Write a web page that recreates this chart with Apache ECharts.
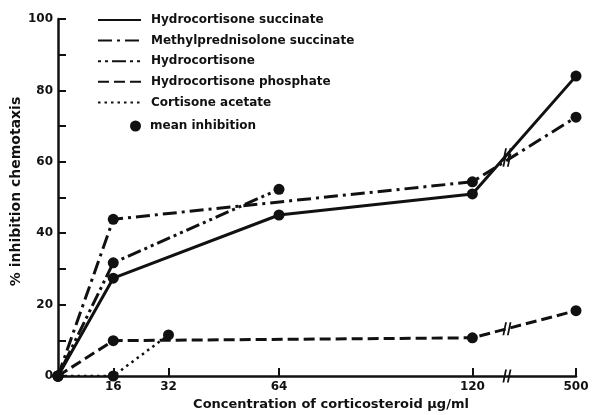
<!DOCTYPE html>
<html>
<head>
<meta charset="utf-8">
<script src="https://cdn.jsdelivr.net/npm/echarts@6/dist/echarts.min.js"></script>
<style>
html,body{margin:0;padding:0;background:#fff;}
#chart{width:593px;height:415px;}
</style>
</head>
<body>
<div id="chart"></div>
<script>
// ---- data ----
const xTickValues = [16, 32, 64, 120, 500];
const yTickValues = [0, 20, 40, 60, 80, 100];

const hsuccX = [0, 16, 64, 120, 500];
const hsuccY = [0, 27.4, 45.1, 51.0, 84.0];

const mpsuccX = [0, 16, 120, 500];
const mpsuccY = [0, 43.9, 54.4, 72.5];

const hcX = [0, 16, 64];
const hcY = [0, 31.7, 52.3];

const hphosX = [0, 16, 120, 500];
const hphosY = [0, 9.9, 10.7, 18.3];

const caX = [0, 16, 32];
const caY = [0, 0, 11.5];

const seriesNames = ['Hydrocortisone succinate', 'Methylprednisolone succinate', 'Hydrocortisone', 'Hydrocortisone phosphate', 'Cortisone acetate'];
const meanName = 'mean inhibition';

// ---- broken x axis: 0..120 linear, then a break, then 500 ----
const breakStart = 120, breakEnd = 500, gapUnits = 30;
function mapX(v) { return v <= breakStart ? v : breakStart + gapUnits * (v - breakStart) / (breakEnd - breakStart); }
function unmapX(m) { return m <= breakStart ? m : Math.round(breakStart + (m - breakStart) * (breakEnd - breakStart) / gapUnits); }
const breakMarkX = 130; // in mapped units, position of the "//" marks

function pairs(xs, ys) { return xs.map((x, i) => [mapX(x), ys[i]]); }
function interpAt(xs, ys, mx) {
  const p = pairs(xs, ys);
  for (let i = 1; i < p.length; i++) {
    if (p[i][0] >= mx && p[i - 1][0] <= mx) {
      const t = (mx - p[i - 1][0]) / (p[i][0] - p[i - 1][0]);
      return p[i - 1][1] + t * (p[i][1] - p[i - 1][1]);
    }
  }
  return null;
}

const FONT = 'DejaVu Sans';
const INK = '#111';

const allLines = [
  [hsuccX, hsuccY, 'solid', 3],
  [mpsuccX, mpsuccY, [14, 5, 3, 5], 3],
  [hcX, hcY, [3, 4, 3, 4, 14, 4], 3],
  [hphosX, hphosY, [11, 5], 3],
  [caX, caY, [2.5, 4], 2.5]
];

const lineSeries = allLines.map((l, i) => ({
  name: seriesNames[i],
  type: 'line',
  data: pairs(l[0], l[1]),
  symbol: 'none',
  lineStyle: { color: INK, width: l[3], type: l[2], cap: 'butt' },
  itemStyle: { color: INK },
  z: 2,
  silent: true
}));

const meanData = [];
allLines.forEach(l => pairs(l[0], l[1]).forEach(p => meanData.push(p)));

const breakData = [[breakMarkX, 0]];
allLines.forEach(l => {
  const maxMapped = mapX(l[0][l[0].length - 1]);
  if (maxMapped > breakMarkX) breakData.push([breakMarkX, interpAt(l[0], l[1], breakMarkX)]);
});

const chart = echarts.init(document.getElementById('chart'), null, { renderer: 'canvas' });
chart.setOption({
  animation: false,
  backgroundColor: '#fff',
  textStyle: { fontFamily: FONT, color: INK },
  grid: { left: 58, right: 17, top: 19, bottom: 39, containLabel: false, outerBoundsMode: 'none' },
  legend: [{
    data: seriesNames,
    orient: 'vertical',
    left: 97,
    top: 14,
    padding: 0,
    itemWidth: 43,
    itemHeight: 12,
    itemGap: 8.6,
    selectedMode: false,
    itemStyle: { opacity: 0 },
    textStyle: { fontFamily: FONT, fontWeight: 'bold', fontSize: 12, color: INK, padding: [0, 0, 0, 5] }
  }, {
    data: [{ name: meanName, icon: 'circle' }],
    orient: 'vertical',
    left: 130,
    top: 120,
    padding: 0,
    itemWidth: 11,
    itemHeight: 11,
    selectedMode: false,
    itemStyle: { opacity: 1, color: INK },
    textStyle: { fontFamily: FONT, fontWeight: 'bold', fontSize: 12, color: INK, padding: [0, 0, 0, 4] }
  }],
  xAxis: {
    type: 'value',
    min: 0,
    max: mapX(500),
    name: 'Concentration of corticosteroid \u00b5g/ml',
    nameLocation: 'middle',
    nameGap: 22,
    nameMoveOverlap: false,
    nameTextStyle: { fontFamily: FONT, fontWeight: 'bold', fontSize: 13, color: INK, padding: [0, 0, 0, 28] },
    axisLine: { show: true, onZero: false, lineStyle: { color: INK, width: 2.5 } },
    axisTick: { show: true, inside: true, length: 8, customValues: xTickValues.map(mapX), lineStyle: { color: INK, width: 2 } },
    axisLabel: { customValues: xTickValues.map(mapX), formatter: v => String(unmapX(v)), fontFamily: FONT, fontWeight: 'bold', fontSize: 12, color: INK, margin: 5 },
    splitLine: { show: false }
  },
  yAxis: {
    type: 'value',
    min: 0,
    max: 100,
    interval: 10,
    name: '% inhibition chemotaxis',
    nameLocation: 'middle',
    nameGap: 35,
    nameMoveOverlap: false,
    nameRotate: 90,
    nameTextStyle: { fontFamily: FONT, fontWeight: 'bold', fontSize: 14, color: INK, padding: [0, 0, 0, 12] },
    axisLine: { show: true, lineStyle: { color: INK, width: 2.5 } },
    axisTick: { show: true, inside: true, length: 8, lineStyle: { color: INK, width: 2 } },
    axisLabel: { formatter: v => (yTickValues.indexOf(v) >= 0 ? String(v) : ''), fontFamily: FONT, fontWeight: 'bold', fontSize: 12, color: INK, margin: 5 },
    splitLine: { show: false }
  },
  series: lineSeries.concat([{
    name: meanName,
    type: 'scatter',
    data: meanData,
    symbol: 'circle',
    symbolSize: 11,
    itemStyle: { color: INK, opacity: 1 },
    z: 5,
    silent: true
  }, {
    name: 'break',
    type: 'scatter',
    data: breakData,
    symbol: 'path://M3,0 L5,0 L2,12 L0,12 Z M8,0 L10,0 L7,12 L5,12 Z',
    symbolSize: [9, 13],
    itemStyle: { color: INK, opacity: 1 },
    z: 6,
    silent: true
  }])
});
</script>
</body>
</html>
